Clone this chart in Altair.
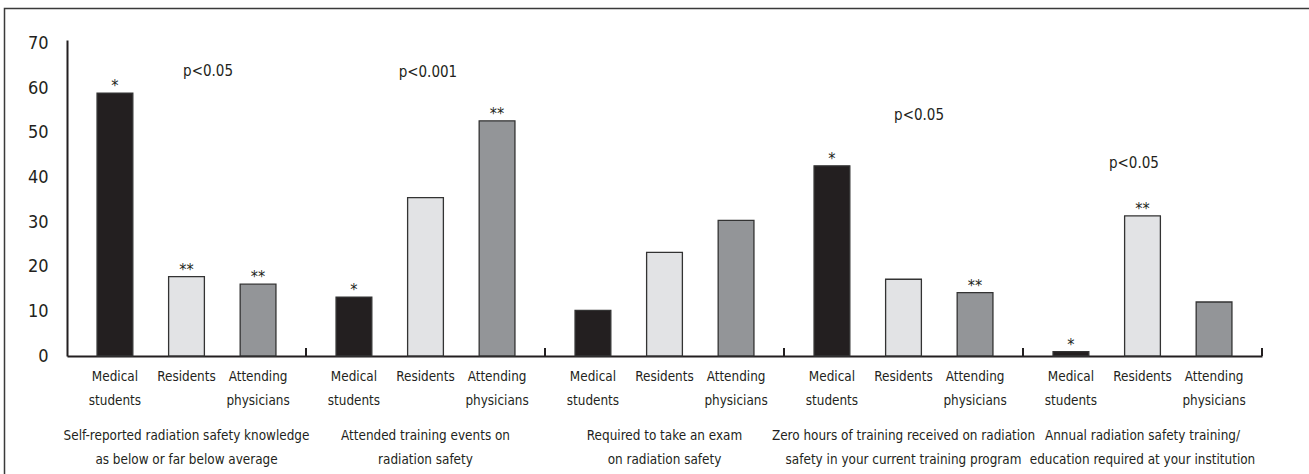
import altair as alt
import pandas as pd

# ---- data ----
groups = ["G1", "G2", "G3", "G4", "G5"]
group_labels = [
    "Self-reported radiation safety knowledge\nas below or far below average",
    "Attended training events on\nradiation safety",
    "Required to take an exam\non radiation safety",
    "Zero hours of training received on radiation\nsafety in your current training program",
    "Annual radiation safety training/\neducation required at your institution",
]
roles = ["Medical students", "Residents", "Attending physicians"]
role_labels = ["Medical\nstudents", "Residents", "Attending\nphysicians"]
medical = [58.9, 13.2, 10.2, 42.6, 1.0]
residents = [17.8, 35.5, 23.2, 17.2, 31.4]
attending = [16.1, 52.7, 30.4, 14.2, 12.1]
stars_medical = ["*", "*", "", "*", "*"]
stars_residents = ["**", "", "", "", "**"]
stars_attending = ["**", "**", "", "**", ""]
p_texts = ["p<0.05", "p<0.001", "", "p<0.05", "p<0.05"]
p_heights = [63.9, 63.6, None, 54.0, 43.2]
p_band_pos = [0.59, 0.51, None, 0.565, 0.464]
y_ticks = [0, 10, 20, 30, 40, 50, 60, 70]

FONT = "DejaVu Sans Condensed, Liberation Sans, sans-serif"
INK = "#231f20"
W, H = 1195, 316

rows = []
for gi, g in enumerate(groups):
    for ri, (r, rl) in enumerate(zip(roles, role_labels)):
        val = [medical, residents, attending][ri][gi]
        star = [stars_medical, stars_residents, stars_attending][ri][gi]
        rows.append({"group": g, "group_label": group_labels[gi], "role": r,
                     "role_label": rl, "value": val, "star": star})
df = pd.DataFrame(rows)
gdf = pd.DataFrame({"group": groups, "group_label": group_labels})

x_enc = alt.X("group:N", sort=groups,
              scale=alt.Scale(paddingInner=0, paddingOuter=0),
              axis=alt.Axis(labels=False, ticks=False, title=None,
                            domainColor=INK, domainWidth=2))
xo_enc = alt.XOffset("role:N", sort=roles,
                     scale=alt.Scale(paddingInner=0.5, paddingOuter=0.42))
y_enc = alt.Y("value:Q",
              scale=alt.Scale(domain=[0, 70.8], nice=False),
              axis=alt.Axis(values=y_ticks, ticks=False, grid=False, title=None,
                            domainColor=INK, domainWidth=2, labelPadding=19,
                            labelFont=FONT, labelFontSize=18, labelColor=INK))

base = alt.Chart(df)

bars = base.mark_bar(stroke="#333333", strokeWidth=1.3).encode(
    x=x_enc, xOffset=xo_enc, y=y_enc,
    color=alt.Color("role:N", sort=roles, legend=None,
                    scale=alt.Scale(domain=roles,
                                    range=["#231f20", "#e2e3e5", "#939598"])),
)

stars = base.transform_filter("datum.star != ''").mark_text(
    font=FONT, fontSize=16, color=INK, baseline="alphabetic", dy=-2
).encode(x=x_enc, xOffset=xo_enc, y="value:Q", text="star:N")

role_text = base.mark_text(
    font=FONT, fontSize=13.4, color=INK, baseline="alphabetic",
    lineBreak="\n", lineHeight=23.5, align="center"
).encode(x=x_enc, xOffset=xo_enc, y=alt.value(H + 25), text="role_label:N")

group_text = alt.Chart(gdf).mark_text(
    font=FONT, fontSize=13.4, color=INK, baseline="alphabetic",
    lineBreak="\n", lineHeight=24, align="center"
).encode(x=x_enc, y=alt.value(H + 84), text="group_label:N")

ends = alt.Chart(gdf).mark_rule(color=INK, strokeWidth=2).encode(
    x=alt.X("group:N", sort=groups, bandPosition=1),
    y=alt.value(H - 8), y2=alt.value(H))

layers = [bars, stars, role_text, group_text, ends]

for g, t, ph, bp in zip(groups, p_texts, p_heights, p_band_pos):
    if not t:
        continue
    pdf = pd.DataFrame({"group": [g], "ptext": [t], "value": [ph]})
    layers.append(alt.Chart(pdf).mark_text(
        font=FONT, fontSize=15, color=INK, baseline="middle", align="center"
    ).encode(x=alt.X("group:N", sort=groups, bandPosition=bp),
             y="value:Q", text="ptext:N"))

frame = alt.Chart(pd.DataFrame({"k": [0]})).mark_rect(
    fill=None, stroke="#3a3a3a", strokeWidth=1.5
).encode(x=alt.value(-62.5), x2=alt.value(W + 120),
         y=alt.value(-31.5), y2=alt.value(H + 200))
layers.append(frame)

chart = alt.layer(*layers).properties(
    width=W, height=H,
    autosize=alt.AutoSizeParams(type="none"),
    padding={"left": 67, "top": 40, "right": 47, "bottom": 118},
    background="white",
).configure_view(stroke=None)

chart.save("out.html", embed_options={"renderer": "svg", "actions": False})
